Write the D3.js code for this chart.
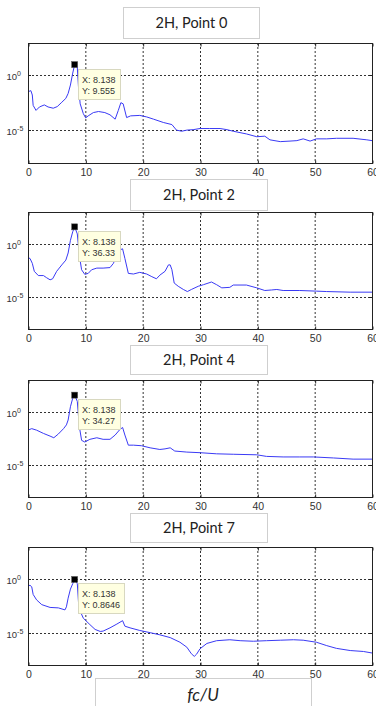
<!DOCTYPE html>
<html>
<head>
<meta charset="utf-8">
<script src="https://cdn.jsdelivr.net/npm/d3@7/dist/d3.min.js"></script>
<style>
  html, body { margin: 0; padding: 0; background: #fff; }
  svg { display: block; }
</style>
</head>
<body>
<svg id="chart" width="376" height="706"></svg>
<script>
// ---------------- DATA ----------------
const titles = ["2H, Point 0", "2H, Point 2", "2H, Point 4", "2H, Point 7"];
const xTickValues = [0, 10, 20, 30, 40, 50, 60];
const yTickValues = [1, 1e-5];
const yTickExponents = ["0", "-5"];
const xAxisLabel = "fc/U";

const markerX = [8.138, 8.138, 8.138, 8.138];
const markerY = [9.555, 36.33, 34.27, 0.8646];
const markerXText = ["8.138", "8.138", "8.138", "8.138"];
const markerYText = ["9.555", "36.33", "34.27", "0.8646"];

const freq0 = [0,0.5,0.75,0.9,1.4,2,2.85,3.5,4.4,5.1,5.9,6.6,7.0,7.4,7.8,8.138,8.6,8.8,9.1,9.65,10.06,10.5,11.4,12.3,13.4,14.3,15.2,15.75,16.2,16.6,17.2,17.9,19.5,20.7,21.9,23.6,25.1,25.9,26.8,27.7,28.8,30,31.7,33.5,34.7,35.8,38.1,39.9,41.3,42.2,44,45.7,46.9,48,49.2,50.3,52.1,53.8,56.7,59.1,60];
const amp0 = [0.032,0.04,0.016,0.0018,6.3e-4,0.0013,0.002,0.0013,0.001,0.0014,0.0035,0.0079,0.022,0.13,1.6,9.555,5.0,0.1,0.0025,3.2e-4,1.3e-4,2e-4,4e-4,5e-4,4e-4,2.5e-4,1e-4,6.3e-4,0.0032,0.0025,1.4e-4,2e-4,2.2e-4,1.6e-4,1e-4,5e-5,3.2e-5,1e-5,7.9e-6,1e-5,1.1e-5,1.4e-5,1.4e-5,1.4e-5,1.1e-5,7.9e-6,4.5e-6,2.5e-6,2.8e-6,1.3e-6,8.9e-7,1e-6,1.1e-6,1.6e-6,1e-6,1.6e-6,1.6e-6,1.8e-6,1.8e-6,1.3e-6,1.1e-6];

const freq2 = [0,0.35,0.75,1.1,1.8,2.7,3.25,3.85,4.3,5.0,5.9,6.6,7.0,7.4,7.8,8.138,8.6,8.95,9.35,9.9,10.5,11.1,12,13.1,14.3,14.9,15.5,16.0,16.5,16.9,17.5,18.4,19.5,20.7,21.6,22.4,23,23.9,24.5,24.8,25.1,25.5,26.2,27.1,27.8,28.5,29.7,30.6,32,32.9,33.8,35.2,35.8,38.1,39.9,41.3,42.5,43.4,44.5,47.4,50.3,52.1,56.2,60];
const amp2 = [0.047,0.04,0.014,0.0025,0.001,0.001,6.3e-4,4e-4,5e-4,0.0025,0.01,0.028,0.13,2.0,12.6,36.33,7.9,0.079,0.0035,0.0013,0.0016,0.0035,0.005,0.005,0.0056,0.014,0.079,0.25,0.32,0.04,0.0016,0.0014,0.002,0.0014,7.9e-4,5e-4,0.0011,0.0025,0.01,0.01,0.0035,2e-4,1e-4,5e-5,3.2e-5,5e-5,1e-4,1.4e-4,2.5e-4,1.4e-4,7.1e-5,7.9e-5,1.3e-4,1.3e-4,7.1e-5,4e-5,4.5e-5,5e-5,4e-5,4e-5,3.5e-5,3.2e-5,2.8e-5,2.8e-5];

const freq4 = [0,0.65,1.5,2.7,3.85,4.5,5.3,6.2,6.7,7.0,7.4,7.8,8.138,8.6,8.95,9.35,9.9,10.8,12,13.1,14.3,15.2,16.0,16.5,16.9,17.5,18.4,19.8,21.3,23,23.9,24.8,25.6,27.7,30,32.9,35.8,39.9,41.6,44.5,47.4,49.8,53.3,56.7,60];
const amp4 = [0.018,0.025,0.018,0.0089,0.005,0.0035,0.0079,0.025,0.056,0.16,2.8,17.8,34.27,8.9,0.04,0.002,0.0014,0.0025,0.0035,0.0025,0.0025,0.0063,0.02,0.032,0.0063,7.1e-4,7.1e-4,6.3e-4,4e-4,2.8e-4,3.2e-4,4e-4,2e-4,1.6e-4,1.4e-4,1.1e-4,1e-4,8.9e-5,6.3e-5,5.6e-5,5.6e-5,5.6e-5,4.5e-5,3.5e-5,3.5e-5];

const freq7 = [0,0.35,0.65,0.9,1.5,2.4,3.85,5.3,6.45,6.7,7.0,7.4,7.8,8.138,8.6,8.8,9.1,9.65,10.8,11.7,12.6,13.1,14.3,15.5,16.5,16.9,17.8,19.5,21.3,23,24.8,26.5,27.7,28.5,29.0,29.4,30,31.2,32.9,35.2,37,39.3,41.6,44,46.3,48,50.3,52.1,53.8,56.2,58.5,60];
const amp7 = [0.22,0.25,0.18,0.035,0.011,0.004,0.0022,0.002,0.0013,0.0025,0.016,0.11,0.35,0.8646,0.35,0.0079,0.001,2.2e-4,5.6e-5,2e-5,1.3e-5,1.4e-5,2.8e-5,6.3e-5,1.3e-4,4e-5,2.8e-5,1.6e-5,1e-5,6.3e-6,3.5e-6,1.3e-6,4.5e-7,1.1e-7,6.3e-8,1e-7,3.2e-7,1e-6,1.8e-6,2.2e-6,1.8e-6,1.6e-6,1.8e-6,2e-6,2.2e-6,2e-6,1.3e-6,6.3e-7,3.5e-7,2.2e-7,1.8e-7,1.3e-7];

const seriesFreq = [freq0, freq2, freq4, freq7];
const seriesAmp = [amp0, amp2, amp4, amp7];

// ---------------- LAYOUT ----------------
const plotLeft = 28, plotRight = 372;
const plotTops = [43, 212, 380, 547];
const plotBottoms = [163, 329, 497, 665];
const titleBoxes = [
  {x: 123, y: 7, w: 136, h: 31},
  {x: 130, y: 179, w: 137, h: 31},
  {x: 130, y: 345, w: 137, h: 29},
  {x: 130, y: 513, w: 137, h: 29}
];
const yDomain = [1e-8, Math.pow(10, 2.95)];

const svg = d3.select("#chart");
const x = d3.scaleLinear().domain([0, 60]).range([plotLeft, plotRight]);

titles.forEach((title, i) => {
  const top = plotTops[i], bottom = plotBottoms[i];
  const y = d3.scaleLog().domain(yDomain).range([bottom, top]);
  const g = svg.append("g");

  const clipId = "clip" + i;
  g.append("clipPath").attr("id", clipId)
    .append("rect").attr("x", plotLeft).attr("y", top)
    .attr("width", plotRight - plotLeft).attr("height", bottom - top);

  // grid lines
  g.append("g").selectAll("line").data(xTickValues.filter(v => v > 0 && v < 60)).join("line")
    .attr("x1", d => x(d) + 0.5).attr("x2", d => x(d) + 0.5)
    .attr("y1", top).attr("y2", bottom)
    .attr("stroke", "#333").attr("stroke-width", 1).attr("stroke-dasharray", "2,2");
  g.append("g").selectAll("line").data(yTickValues).join("line")
    .attr("x1", plotLeft).attr("x2", plotRight)
    .attr("y1", d => Math.round(y(d)) + 0.5).attr("y2", d => Math.round(y(d)) + 0.5)
    .attr("stroke", "#333").attr("stroke-width", 1).attr("stroke-dasharray", "2,2");

  // data line
  const pts = seriesFreq[i].map((f, k) => [f, seriesAmp[i][k]]);
  g.append("path")
    .datum(pts)
    .attr("clip-path", "url(#" + clipId + ")")
    .attr("fill", "none")
    .attr("stroke", "#3a3af5")
    .attr("stroke-width", 1)
    .attr("stroke-linejoin", "round")
    .attr("d", d3.line().x(d => x(d[0])).y(d => y(d[1])));

  // frame
  g.append("rect")
    .attr("x", plotLeft + 0.5).attr("y", top + 0.5)
    .attr("width", plotRight - plotLeft).attr("height", bottom - top)
    .attr("fill", "none").attr("stroke", "#222").attr("stroke-width", 1);

  // x axis (ticks inward) using d3 axis
  const xAxis = d3.axisBottom(x).tickValues(xTickValues).tickSizeInner(-3).tickSizeOuter(0).tickPadding(6);
  const ax = g.append("g").attr("transform", `translate(0.5,${bottom + 0.5})`).call(xAxis);
  ax.select(".domain").remove();
  ax.selectAll(".tick line").attr("stroke", "#222");
  ax.selectAll(".tick text")
    .attr("font-family", "Liberation Sans, Arial, sans-serif")
    .attr("font-size", 10.5).attr("fill", "#333")
    .attr("dy", null).attr("y", 12.5);

  // top ticks
  const axTop = d3.axisTop(x).tickValues(xTickValues).tickSizeInner(-3).tickSizeOuter(0).tickFormat("");
  const at = g.append("g").attr("transform", `translate(0.5,${top + 0.5})`).call(axTop);
  at.select(".domain").remove();
  at.selectAll(".tick line").attr("stroke", "#222");

  // y axis labels
  const yl = g.append("g");
  yTickValues.forEach((v, k) => {
    const yy = Math.round(y(v)) + 0.5;
    const t = yl.append("text")
      .attr("x", 6.5).attr("y", yy + 4.5)
      .attr("font-family", "Liberation Sans, Arial, sans-serif")
      .attr("font-size", 9.5).attr("fill", "#333");
    t.append("tspan").text("10");
    t.append("tspan").attr("dy", -4).attr("font-size", 7).text(yTickExponents[k]);
    yl.append("line").attr("x1", plotLeft).attr("x2", plotLeft + 3).attr("y1", yy).attr("y2", yy).attr("stroke", "#222");
    yl.append("line").attr("x1", plotRight - 3).attr("x2", plotRight).attr("y1", yy).attr("y2", yy).attr("stroke", "#222");
  });

  // title box
  const tb = titleBoxes[i];
  g.append("rect").attr("x", tb.x + 0.5).attr("y", tb.y + 0.5).attr("width", tb.w).attr("height", tb.h)
    .attr("fill", "#fff").attr("stroke", "#cfcfcf");
  g.append("text").attr("x", tb.x + tb.w / 2 + 0.5).attr("y", tb.y + tb.h / 2 + 5.5)
    .attr("text-anchor", "middle")
    .attr("font-family", "Lato, 'Open Sans', sans-serif").attr("font-size", 14.5).attr("fill", "#222")
    .text(title);

  // data tip
  const mx = x(markerX[i]), my = y(markerY[i]);
  const tipX = Math.round(mx) + 3, tipY = Math.round(my) + 4;
  const tip = g.append("g");
  const l1 = "X: " + markerXText[i], l2 = "Y: " + markerYText[i];
  const tt1 = tip.append("text").attr("x", tipX + 4).attr("y", tipY + 13.5)
    .attr("font-family", "Liberation Sans, Arial, sans-serif").attr("font-size", 9).attr("fill", "#333").text(l1);
  const tt2 = tip.append("text").attr("x", tipX + 4).attr("y", tipY + 24.5)
    .attr("font-family", "Liberation Sans, Arial, sans-serif").attr("font-size", 9).attr("fill", "#333").text(l2);
  const w = Math.max(tt1.node().getComputedTextLength(), tt2.node().getComputedTextLength()) + 8;
  tip.insert("rect", "text").attr("x", tipX + 0.5).attr("y", tipY + 0.5).attr("width", Math.round(w)).attr("height", 30)
    .attr("fill", "#ffffe1").attr("stroke", "#d8d8c0");
  g.append("rect").attr("x", mx - 3).attr("y", my - 3).attr("width", 6).attr("height", 6)
    .attr("fill", "#000").attr("stroke", "#555").attr("stroke-width", 0.5);
});

// bottom x label box
svg.append("rect").attr("x", 95.5).attr("y", 678.5).attr("width", 216).attr("height", 40)
  .attr("fill", "#fff").attr("stroke", "#cfcfcf");
svg.append("text").attr("x", 203).attr("y", 700.5).attr("text-anchor", "middle")
  .attr("font-family", "Lato, 'Open Sans', sans-serif").attr("font-style", "italic")
  .attr("font-size", 17).attr("fill", "#222").text(xAxisLabel);
</script>
</body>
</html>
